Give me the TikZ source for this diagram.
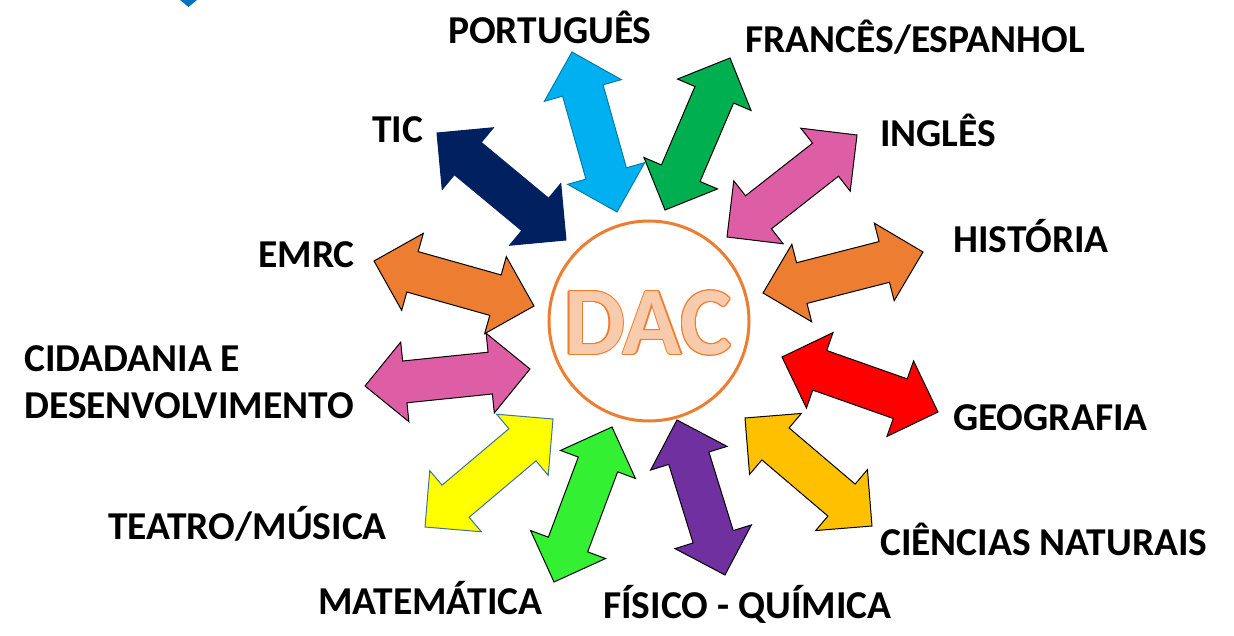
\documentclass[tikz,border=0pt]{standalone}
\usepackage{fontspec}
\setmainfont{Carlito}
\usetikzlibrary{calc}
\definecolor{cblue}{HTML}{00B0F0}
\definecolor{cgreen}{HTML}{00B050}
\definecolor{cpink}{HTML}{DE5EA6}
\definecolor{corange}{HTML}{ED7D31}
\definecolor{cred}{HTML}{FF0000}
\definecolor{cgold}{HTML}{FFC000}
\definecolor{cpurple}{HTML}{7030A0}
\definecolor{clime}{HTML}{33F033}
\definecolor{cyellow}{HTML}{FFFF00}
\definecolor{cnavy}{HTML}{002060}
\definecolor{cpeach}{HTML}{F8CBAD}
\definecolor{cyedge}{HTML}{41719C}
\definecolor{ctri}{HTML}{0070C0}
\tikzset{
  arr/.style={line width=1pt, draw=black, line join=miter},
  lbl/.style={font=\bfseries\fontsize{39.5}{41}\selectfont, inner sep=0pt, anchor=base west, text=black},
  dacfont/.style={font=\bfseries\fontsize{97}{97}\selectfont, inner sep=0pt},
}
% #1 style, (#2,#3) tip A, (#4,#5) tip B, in pixels
\newcommand\dblarr[5]{%
  \pgfmathsetmacro\adx{#4-#2}%
  \pgfmathsetmacro\ady{#5-#3}%
  \pgfmathsetmacro\alen{veclen(\adx,\ady)}%
  \pgfmathsetmacro\aang{-atan2(\ady,\adx)}%
  \pgfmathsetmacro\ab{\alen-40}%
  \draw[arr,#1,shift={(#2,#3)},rotate=\aang]
    (0,0) -- (40,40) -- (40,21) -- (\ab,21) -- (\ab,40) -- (\alen,0)
    -- (\ab,-40) -- (\ab,-21) -- (40,-21) -- (40,-40) -- cycle;}
\begin{document}
\begin{tikzpicture}[x=1pt,y=-1pt]
\useasboundingbox (0,0) rectangle (1234,636);
% small blue mark
\fill[ctri] (180,0) -- (197,0) -- (188.5,7) -- cycle;
% centre
\node[circle, draw=corange, line width=3pt, minimum size=200pt, inner sep=0pt] (dac) at (649,321) {};
\foreach \ox/\oy in {1.3/0,-1.3/0,0/1.3,0/-1.3,0.9/0.9,-0.9/0.9,0.9/-0.9,-0.9/-0.9}
  \node[dacfont, text=corange] at ($(648,323)+(\ox,\oy)$) {DAC};
\node[dacfont, text=cpeach] (dactext) at (648,323) {DAC};
% arrows
\dblarr{fill=cblue, draw=cblue!70!black}{572}{52}{617}{212}
\dblarr{fill=cgreen}{730}{58}{665}{210}
\dblarr{fill=cpink}{857}{135}{727}{237}
\dblarr{fill=corange}{923}{252}{763}{293}
\dblarr{fill=cred}{782}{357}{938}{412}
\dblarr{fill=cgold}{745}{418}{872}{526}
\dblarr{fill=cpurple}{677}{420}{725}{575}
\dblarr{fill=clime}{612}{427}{554}{582}
\dblarr{fill=cyellow, draw=cyedge}{553}{419}{425}{527}
\dblarr{fill=cpink}{530}{369}{365}{386}
\dblarr{fill=corange}{374}{261}{534}{306}
\dblarr{fill=cnavy, draw=cnavy}{437}{133}{566}{240}
% labels
\node[lbl] (pt) at (448,44) {PORTUGUÊS};
\node[lbl] (fr) at (745,53) {FRANCÊS/ESPANHOL};
\node[lbl] (en) at (880,147) {INGLÊS};
\node[lbl] (tic) at (372,143) {TIC};
\node[lbl] (hi) at (953,253) {HISTÓRIA};
\node[lbl] (emrc) at (258,268) {EMRC};
\node[lbl] (cid1) at (24,371) {CIDADANIA E};
\node[lbl] (cid2) at (24,418) {DESENVOLVIMENTO};
\node[lbl] (geo) at (953,430) {GEOGRAFIA};
\node[lbl] (tea) at (108,539) {TEATRO/MÚSICA};
\node[lbl] (cn) at (880,555) {CIÊNCIAS NATURAIS};
\node[lbl] (mat) at (318,614) {MATEMÁTICA};
\node[lbl] (fq) at (603,618) {FÍSICO - QUÍMICA};
\end{tikzpicture}
\end{document}
